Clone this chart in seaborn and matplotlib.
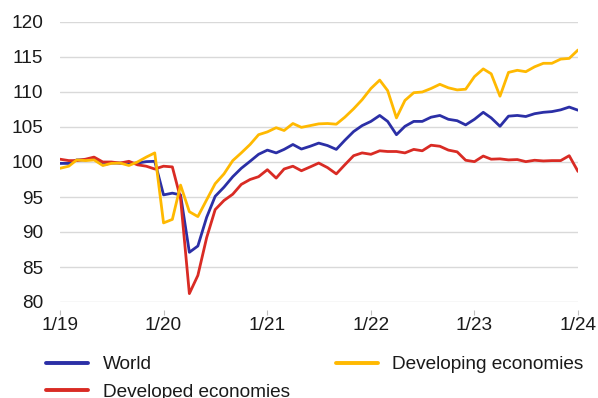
import matplotlib
matplotlib.use("Agg")
import matplotlib.pyplot as plt
import numpy as np
import pandas as pd
import seaborn as sns

# Monthly index values, January 2019 to January 2024
months = pd.date_range("2019-01-01", periods=61, freq="MS")

world = [99.8, 99.8, 100.3, 100.3, 100.5, 99.6, 99.85, 99.85, 99.8, 99.85, 100.05, 100.1,
         95.3, 95.55, 95.3, 87.1, 88.0, 92.1, 95.1, 96.4, 97.9, 99.1, 100.1, 101.1,
         101.7, 101.3, 101.8, 102.5, 101.85, 102.25, 102.7, 102.35, 101.8, 103.1, 104.35, 105.2,
         105.8, 106.65, 105.8, 103.9, 105.1, 105.8, 105.8, 106.4, 106.65, 106.1, 105.9, 105.3,
         106.1, 107.1, 106.3, 105.1, 106.55, 106.65, 106.5, 106.9, 107.1, 107.2, 107.45, 107.85,
         107.4]

developing = [99.1, 99.4, 100.3, 100.2, 100.3, 99.5, 99.8, 99.85, 99.5, 100.0, 100.7, 101.3,
              91.3, 91.8, 96.7, 92.9, 92.2, 94.6, 96.9, 98.3, 100.2, 101.3, 102.5, 103.9,
              104.3, 104.9, 104.5, 105.5, 104.95, 105.2, 105.45, 105.5, 105.4, 106.4, 107.6, 108.9,
              110.5, 111.7, 110.2, 106.3, 108.8, 109.9, 110.0, 110.5, 111.1, 110.6, 110.3, 110.4,
              112.2, 113.3, 112.6, 109.4, 112.8, 113.1, 112.9, 113.6, 114.1, 114.1, 114.7, 114.8,
              116.0]

developed = [100.4, 100.2, 100.2, 100.4, 100.7, 100.0, 100.0, 99.85, 100.1, 99.6, 99.4, 99.0,
             99.4, 99.3, 94.8, 81.2, 83.8, 89.2, 93.2, 94.5, 95.4, 96.8, 97.5, 97.9,
             98.9, 97.7, 99.0, 99.4, 98.75, 99.3, 99.85, 99.2, 98.3, 99.6, 100.9, 101.3,
             101.1, 101.6, 101.5, 101.5, 101.3, 101.8, 101.6, 102.4, 102.25, 101.7, 101.45, 100.25,
             100.05, 100.85, 100.4, 100.45, 100.3, 100.35, 100.05, 100.25, 100.15, 100.2, 100.2,
             100.9, 98.65]

series_names = ["World", "Developed economies", "Developing economies"]
series_colors = ["#2B2FA6", "#D92B24", "#FFB901"]
y_ticks = [80, 85, 90, 95, 100, 105, 110, 115, 120]

df = pd.DataFrame({
    "month": np.tile(months, 3),
    "value": world + developed + developing,
    "series": np.repeat(series_names, len(months)),
})

sns.set_theme(style="white")
plt.rcParams["font.family"] = ["Liberation Sans", "DejaVu Sans"]

W, H = 598, 398
fig = plt.figure(figsize=(W / 100, H / 100), dpi=100)
ax = fig.add_axes([60 / W, (H - 302) / H, (578 - 60) / W, (302 - 22) / H])

sns.lineplot(data=df, x="month", y="value", hue="series", hue_order=series_names,
             palette=series_colors, linewidth=2.0, ax=ax, legend=True)

ax.set_xlim(months[0], months[-1])
ax.set_ylim(80, 120)
ax.set_yticks(y_ticks)
ax.set_yticklabels([str(v) for v in y_ticks])
year_ticks = months[::12]
ax.set_xticks(year_ticks)
ax.set_xticklabels([f"{d.month}/{d.year % 100}" for d in year_ticks])
ax.set_xlabel("")
ax.set_ylabel("")

ax.grid(axis="y", color="#D9D9D9", linewidth=1.0)
ax.set_axisbelow(True)
for s in ax.spines.values():
    s.set_visible(False)
# small year ticks sit a little below the bottom gridline
ax.spines["bottom"].set_position(("outward", 5.8))
ax.tick_params(axis="y", length=0, pad=12, labelsize=13.7, colors="#1a1a1a")
ax.tick_params(axis="x", length=3.6, width=0.8, color="#BFBFBF", pad=1.2,
               labelsize=13.7, labelcolor="#1a1a1a", direction="out")
ax.xaxis.set_ticks_position("bottom")

handles, labels = ax.get_legend_handles_labels()
ax.get_legend().remove()
for h in handles:
    h.set_linewidth(2.8)
leg = fig.legend(handles, labels, ncol=2, loc="upper left",
                 bbox_to_anchor=(46 / W, 1 - 356 / H), bbox_transform=fig.transFigure,
                 frameon=False, fontsize=13.7, handlelength=2.2, handletextpad=0.78,
                 columnspacing=2.42, labelspacing=0.54, borderpad=0, borderaxespad=0)
for t in leg.get_texts():
    t.set_color("#1a1a1a")

fig.savefig("out.png", dpi=100)
